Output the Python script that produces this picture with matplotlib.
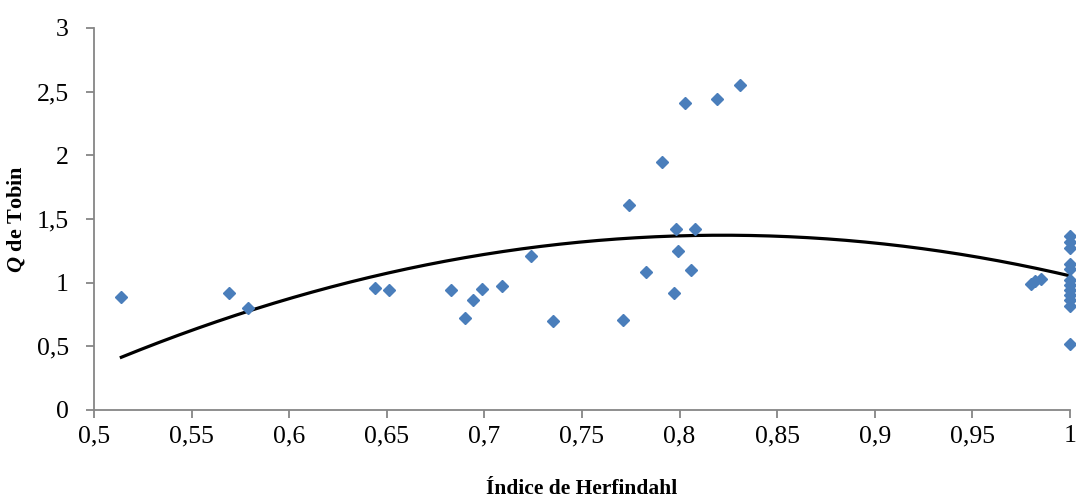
import matplotlib.pyplot as plt
from matplotlib.ticker import FuncFormatter, MultipleLocator
import numpy as np

# Herfindahl index (x) and Tobin's Q (y)
herfindahl = [0.514, 0.569, 0.579, 0.644, 0.651, 0.683, 0.690, 0.694, 0.699, 0.709,
              0.724, 0.735, 0.771, 0.774, 0.783, 0.791, 0.797, 0.798, 0.799, 0.803,
              0.806, 0.808, 0.819, 0.831,
              0.980, 0.982, 0.985,
              1.0, 1.0, 1.0, 1.0, 1.0, 1.0, 1.0, 1.0, 1.0, 1.0, 1.0, 1.0]
tobin_q = [0.89, 0.92, 0.80, 0.96, 0.94, 0.94, 0.72, 0.86, 0.95, 0.97,
           1.21, 0.70, 0.71, 1.61, 1.08, 1.95, 0.92, 1.42, 1.25, 2.41,
           1.10, 1.42, 2.44, 2.55,
           0.99, 1.01, 1.03,
           1.37, 1.32, 1.27, 1.15, 1.11, 1.02, 0.98, 0.94, 0.90, 0.86, 0.82, 0.52]

plt.rcParams['font.family'] = ['Liberation Serif', 'DejaVu Serif']
plt.rcParams['mathtext.fontset'] = 'custom'
plt.rcParams['mathtext.rm'] = 'Liberation Serif'
plt.rcParams['mathtext.it'] = 'Liberation Serif:italic'
plt.rcParams['mathtext.bf'] = 'Liberation Serif:bold'
plt.rcParams['mathtext.bfit'] = 'Liberation Serif:italic:bold'

fig = plt.figure(figsize=(10.76, 5), dpi=100)
fig.patch.set_facecolor('white')
ax = fig.add_axes([94 / 1076, 90 / 500, (1070 - 94) / 1076, (410 - 28) / 500])

x = np.array(herfindahl)
y = np.array(tobin_q)

# polynomial (order 2) trendline
coef = np.polyfit(x, y, 2)
xs = np.linspace(x.min(), 1.0, 200)
ax.plot(xs, np.polyval(coef, xs), color='black', linewidth=2.3, zorder=2)

ax.plot(x, y, linestyle='none', marker='D', ms=6.6, color='#4A7EBB',
        markeredgecolor='#4A7EBB', clip_on=False, zorder=3)

ax.set_xlim(0.5, 1.0)
ax.set_ylim(0, 3)
ax.xaxis.set_major_locator(MultipleLocator(0.05))
ax.yaxis.set_major_locator(MultipleLocator(0.5))
comma = FuncFormatter(lambda v, p: ('%g' % round(v, 2)).replace('.', ','))
ax.xaxis.set_major_formatter(comma)
ax.yaxis.set_major_formatter(comma)

for side in ['top', 'right']:
    ax.spines[side].set_visible(False)
for side in ['left', 'bottom']:
    ax.spines[side].set_color('#868686')
    ax.spines[side].set_linewidth(1.3)
ax.tick_params(axis='both', direction='out', length=6, width=1.3, color='#868686',
               labelsize=18.5, labelcolor='black')
ax.tick_params(axis='x', pad=5)
ax.tick_params(axis='y', pad=12)

ax.set_xlabel('Índice de Herfindahl', fontsize=15.5, weight='bold', labelpad=23)
ax.set_ylabel(r'$\mathbfit{Q}$ de Tobin', fontsize=16, weight='bold', labelpad=7)

fig.savefig('out.png', dpi=100, facecolor='white')
